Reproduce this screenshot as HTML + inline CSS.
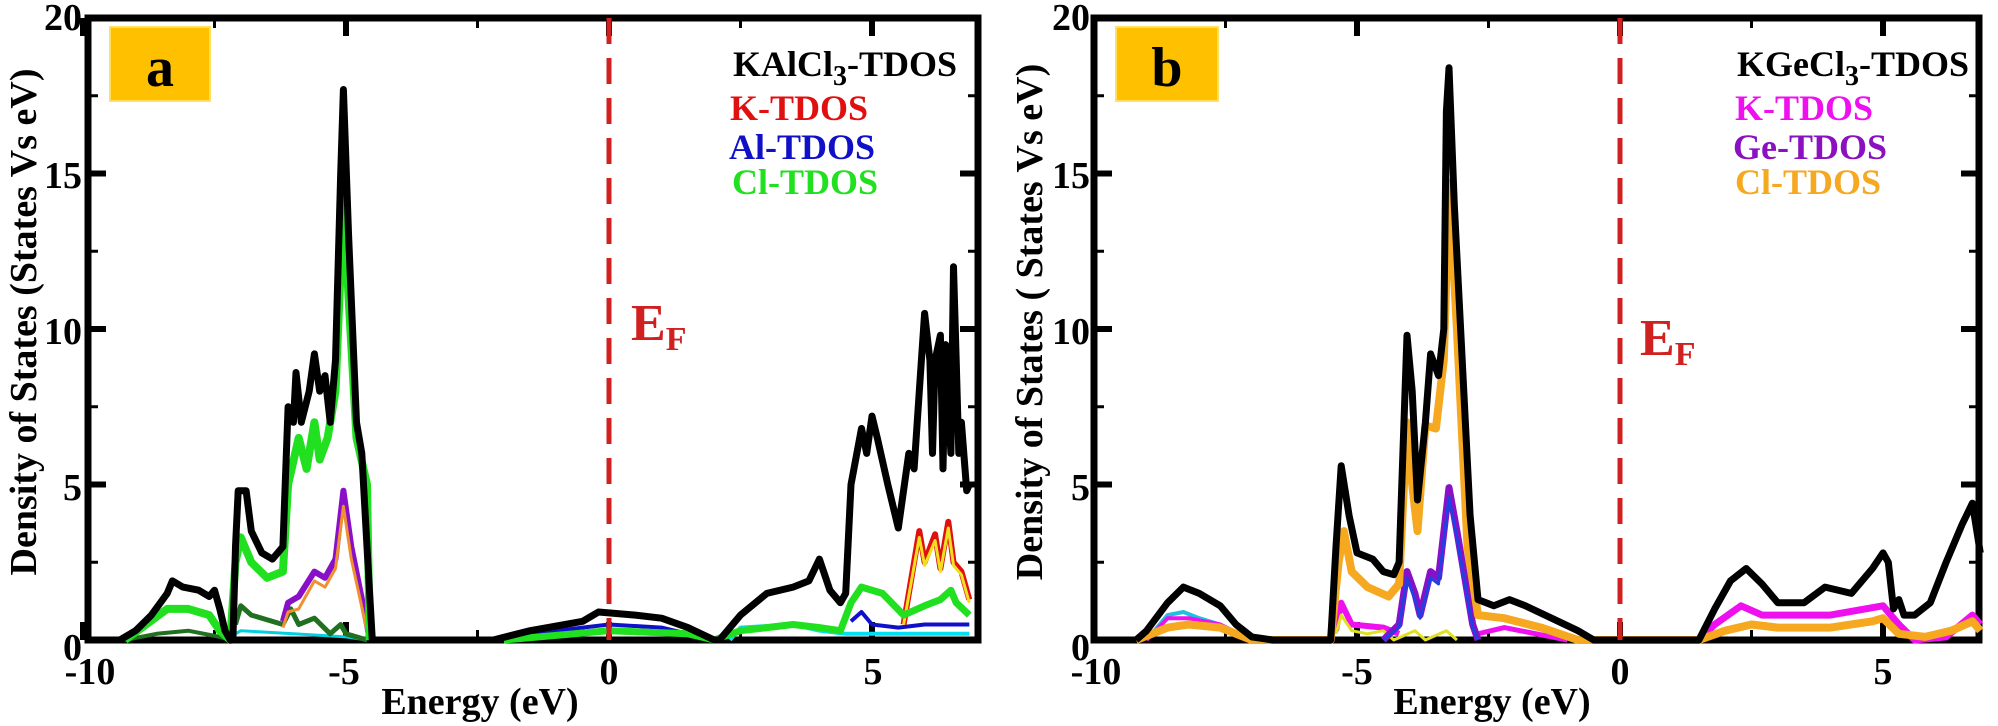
<!DOCTYPE html>
<html><head><meta charset="utf-8"><style>
html,body{margin:0;padding:0;background:#fff;}
svg{display:block;}
text{font-family:"Liberation Serif",serif;font-weight:bold;}
</style></head><body>
<svg id="s" width="1998" height="726" xmlns="http://www.w3.org/2000/svg">
<!-- Panel a -->
<rect x="88" y="18" width="890" height="622" fill="none" stroke="#000" stroke-width="7"/>
<rect x="110" y="27" width="100" height="74" fill="#FFC000" stroke="#ffe060" stroke-width="2"/>
<text x="160" y="86" font-size="56" text-anchor="middle">a</text>
<text x="733" y="76" font-size="36" fill="#000">KAlCl<tspan font-size="28" dy="9">3</tspan><tspan dy="-9">-TDOS</tspan></text>
<text x="730" y="120" font-size="36" fill="#e01010">K-TDOS</text>
<text x="729" y="159" font-size="36" fill="#1010c8">Al-TDOS</text>
<text x="732" y="194" font-size="36" fill="#20e020">Cl-TDOS</text>
<text x="631" y="340" font-size="52" fill="#d02020">E<tspan font-size="34" dy="10">F</tspan></text>
<g font-size="38" text-anchor="middle">
<text x="90" y="684">-10</text><text x="344" y="684">-5</text><text x="609" y="684">0</text><text x="873" y="684">5</text>
</g>
<g font-size="38" text-anchor="end">
<text x="82" y="660">0</text><text x="82" y="500">5</text><text x="82" y="344">10</text><text x="82" y="188">15</text><text x="82" y="30">20</text>
</g>
<text x="480" y="714" font-size="38" text-anchor="middle">Energy (eV)</text>
<text transform="translate(36,322) rotate(-90)" font-size="38" text-anchor="middle">Density of States (States Vs eV)</text>
<!-- Panel b -->
<rect x="1094" y="18" width="885" height="622" fill="none" stroke="#000" stroke-width="7"/>
<rect x="1116" y="27" width="102" height="74" fill="#FFC000" stroke="#ffe060" stroke-width="2"/>
<text x="1167" y="86" font-size="56" text-anchor="middle">b</text>
<text x="1737" y="76" font-size="36" fill="#000">KGeCl<tspan font-size="28" dy="9">3</tspan><tspan dy="-9">-TDOS</tspan></text>
<text x="1735" y="120" font-size="36" fill="#ee10ee">K-TDOS</text>
<text x="1733" y="159" font-size="36" fill="#8a10c0">Ge-TDOS</text>
<text x="1735" y="194" font-size="36" fill="#f5a820">Cl-TDOS</text>
<text x="1640" y="355" font-size="52" fill="#d02020">E<tspan font-size="34" dy="10">F</tspan></text>
<g font-size="38" text-anchor="middle">
<text x="1096" y="684">-10</text><text x="1357" y="684">-5</text><text x="1620" y="684">0</text><text x="1883" y="684">5</text>
</g>
<g font-size="38" text-anchor="end">
<text x="1090" y="660">0</text><text x="1090" y="500">5</text><text x="1090" y="344">10</text><text x="1090" y="188">15</text><text x="1090" y="30">20</text>
</g>
<text x="1492" y="714" font-size="38" text-anchor="middle">Energy (eV)</text>
<text transform="translate(1042,322) rotate(-90)" font-size="38" text-anchor="middle">Density of States ( States Vs eV)</text>
<g id="ga"></g><g id="gb"></g>
</svg>
<script>
var NS="http://www.w3.org/2000/svg";
function P(g,x0,d,col,w,dash){var s="";for(var i=0;i<d.length;i+=2){s+=(x0+d[i]*52.6).toFixed(1)+","+(640-d[i+1]*31.1).toFixed(1)+" ";}
var p=document.createElementNS(NS,"polyline");p.setAttribute("points",s);p.setAttribute("fill","none");p.setAttribute("stroke",col);p.setAttribute("stroke-width",w);p.setAttribute("stroke-linejoin","round");if(dash)p.setAttribute("stroke-dasharray",dash);document.getElementById(g).appendChild(p);}
function L(el,x1,y1,x2,y2,w){var l=document.createElementNS(NS,"line");l.setAttribute("x1",x1);l.setAttribute("x2",x2);l.setAttribute("y1",y1);l.setAttribute("y2",y2);l.setAttribute("stroke","#000");l.setAttribute("stroke-width",w);el.appendChild(l);}
function T(g,x0,xl,xr){var el=document.getElementById(g);
[-10,-5,0,5].forEach(function(e){var x=x0+e*52.6;L(el,x,640,x,622,6);L(el,x,18,x,36,6);});
[-7.5,-2.5,2.5].forEach(function(e){var x=x0+e*52.6;L(el,x,640,x,630,3);L(el,x,18,x,28,3);});
for(var v=0;v<=20;v+=2.5){var y=640-v*31.1;var maj=(v%5==0);L(el,xl,y,xl+(maj?18:10),y,maj?6:3);L(el,xr,y,xr-(maj?18:10),y,maj?6:3);}}
var xa=609, xb=1620;
T("ga",xa,88,978);T("gb",xb,1094,1979);
// panel a
P("ga",xa,[-7.2,0.1,-7,0.3,-6,0.2,-5,0.1,-4.6,0],"#00d0e0",3);
P("ga",xa,[-7.1,0.5,-7,1.1,-6.8,0.8,-6.2,0.5,-6.05,1,-5.9,0.5,-5.6,0.7,-5.3,0.2,-5.1,0.5,-5,0.2,-4.6,0],"#207020",5);
P("ga",xa,[-9.2,0,-8.6,0.2,-8,0.3,-7.4,0.1,-7.2,0],"#207020",4);
P("ga",xa,[-6.2,0.6,-6.1,1.2,-5.9,1.4,-5.6,2.2,-5.4,2,-5.2,2.6,-5.05,4.8,-4.9,3,-4.6,0.5,-4.55,0],"#8a10c8",6);
P("ga",xa,[-6.2,0.4,-6.1,0.9,-5.9,1,-5.6,1.9,-5.4,1.7,-5.2,2.3,-5.05,4.3,-4.9,2.6,-4.6,0.3,-4.55,0],"#f09030",3);
P("ga",xa,[2.3,0,2.5,0.4,3.5,0.5,4,0.3,4.5,0.2,6.85,0.2],"#00e0f0",4);
P("ga",xa,[-2,0,-1,0.3,0,0.5,1,0.4,2,0],"#1010c8",4);
P("ga",xa,[4.6,0.6,4.8,0.9,5,0.5,5.5,0.4,6,0.5,6.85,0.5],"#1010c8",4);
P("ga",xa,[5.6,0.5,5.9,3.5,6.0,2.5,6.2,3.4,6.3,2.3,6.45,3.8,6.55,2.5,6.7,2.2,6.85,1.3],"#e01010",6);
P("ga",xa,[5.6,0.5,5.9,3.3,6.0,2.4,6.2,3.2,6.3,2.2,6.45,3.6,6.55,2.4,6.7,2.1,6.85,1.2],"#f0e020",3);
P("ga",xa,[-9.2,0,-8.8,0.5,-8.4,1,-8,1,-7.6,0.8,-7.4,0.3,-7.2,0,-7.1,2.5,-7,3.3,-6.8,2.5,-6.5,2,-6.2,2.2,-6.1,5,-5.9,6.5,-5.75,5.5,-5.6,7,-5.5,5.8,-5.35,6.5,-5.2,8,-5.1,12,-5.05,14.4,-4.95,11,-4.8,6.5,-4.6,5,-4.55,0],"#20e020",8);
P("ga",xa,[-2,0,0,0.3,1.5,0.2,2,0,2.5,0.3,3.5,0.5,4,0.4,4.4,0.3,4.6,1.2,4.8,1.7,5.2,1.5,5.6,0.8,6,1.1,6.3,1.3,6.5,1.6,6.6,1.2,6.85,0.8],"#20e020",7);
P("ga",xa,[-9.3,0,-9,0.3,-8.7,0.8,-8.4,1.5,-8.3,1.9,-8.1,1.7,-7.8,1.6,-7.6,1.4,-7.5,1.6,-7.4,1,-7.3,0.3,-7.2,0,-7.15,0,-7.1,3,-7.05,4.8,-6.9,4.8,-6.8,3.5,-6.6,2.8,-6.4,2.6,-6.2,3,-6.1,7.5,-6.0,7,-5.95,8.6,-5.85,7,-5.7,8,-5.6,9.2,-5.5,8,-5.4,8.5,-5.3,7,-5.2,9,-5.1,15,-5.05,17.7,-4.95,13,-4.8,7,-4.7,6,-4.6,3,-4.5,0,-2.2,0,-1.5,0.3,-0.5,0.6,-0.2,0.9,0.5,0.8,1,0.7,1.5,0.4,2,0,2.1,0,2.5,0.8,3,1.5,3.5,1.7,3.8,1.9,4,2.6,4.2,1.6,4.4,1.2,4.5,1.5,4.6,5,4.8,6.8,4.9,6,5.0,7.2,5.1,6.5,5.3,5,5.5,3.6,5.7,6,5.8,5.5,5.9,8,6.0,10.5,6.1,9,6.15,6,6.2,9,6.3,9.8,6.35,5.5,6.4,9.5,6.5,6,6.55,12,6.6,9,6.65,6,6.7,7,6.8,4.8,6.85,5],"#000",7);
P("ga",xa,[0,20,0,0],"#d02020",5,"26,14");
// panel b
P("gb",xb,[-9,0,-8.6,0.8,-8.3,0.9,-8,0.7,-7.6,0.5,-7,0],"#20c0e0",4);
P("gb",xb,[-9,0,-8.6,0.7,-8.2,0.7,-7.6,0.5,-7,0],"#ee10ee",4);
P("gb",xb,[-5.4,0.3,-5.3,1.2,-5.1,0.5,-4.5,0.4,-4.2,0.2],"#ee10ee",6);
P("gb",xb,[-5.4,0.2,-5.3,0.8,-5.1,0.3,-4.8,0.2,-4.5,0.3,-4.3,0,-3.9,0.3,-3.7,0,-3.3,0.3,-3.1,0],"#e0e020",3);
P("gb",xb,[-2.7,0.2,-2.2,0.4,-1,0],"#ee10ee",5);
P("gb",xb,[-4.5,0,-4.2,0.5,-4.05,2.2,-3.9,1.5,-3.8,0.8,-3.6,2.2,-3.45,2,-3.25,4.9,-3.1,3.5,-2.8,0.5,-2.7,0],"#8a10c8",7);
P("gb",xb,[-4.5,0,-4.2,0.4,-4.05,2,-3.9,1.3,-3.8,0.7,-3.6,2,-3.45,1.8,-3.25,4.6,-3.1,3.3,-2.8,0.4,-2.7,0],"#2040e0",3);
P("gb",xb,[1.5,0,1.8,0.5,2.3,1.1,2.7,0.8,4,0.8,5,1.1,5.3,0.5,5.6,0,6.2,0.1,6.7,0.8,6.85,0.5],"#ee10ee",7);
P("gb",xb,[-9.2,0,-8.6,0.4,-8.2,0.5,-7.6,0.4,-7,0,-5.5,0,-5.35,2.5,-5.25,3.5,-5.1,2.2,-4.8,1.7,-4.4,1.4,-4.2,1.8,-4.05,7,-3.95,5,-3.85,3.5,-3.7,6.9,-3.5,6.8,-3.35,9,-3.25,14.7,-3.1,10,-2.9,3,-2.7,0.8,-2.2,0.7,-1.5,0.4,-0.8,0,1.5,0,2,0.3,2.5,0.5,3,0.4,4,0.4,4.8,0.6,5,0.7,5.3,0.2,5.8,0.1,6.3,0.3,6.7,0.6,6.85,0.3],"#f5a820",8);
P("gb",xb,[-9.2,0,-9,0.3,-8.6,1.2,-8.3,1.7,-8,1.5,-7.6,1.1,-7.3,0.5,-7,0.1,-6.6,0,-5.5,0,-5.4,3,-5.3,5.6,-5.15,4,-5,2.8,-4.7,2.6,-4.5,2.2,-4.3,2.1,-4.2,2.5,-4.05,9.8,-3.95,8,-3.85,4.5,-3.7,7,-3.6,9.2,-3.45,8.5,-3.35,10,-3.3,17,-3.25,18.4,-3.15,14,-3,9,-2.85,4,-2.7,1.3,-2.4,1.1,-2.1,1.3,-1.8,1.1,-1.3,0.7,-0.8,0.3,-0.5,0,1.5,0,1.8,1,2.1,1.9,2.4,2.3,2.7,1.8,3,1.2,3.5,1.2,3.9,1.7,4.4,1.5,4.8,2.3,5,2.8,5.1,2.5,5.2,1,5.3,1.3,5.4,0.8,5.6,0.8,5.9,1.2,6.2,2.5,6.5,3.7,6.7,4.4,6.85,2.8],"#000",7);
P("gb",xb,[0,20,0,0],"#d02020",5,"26,14");
</script>
</body></html>
